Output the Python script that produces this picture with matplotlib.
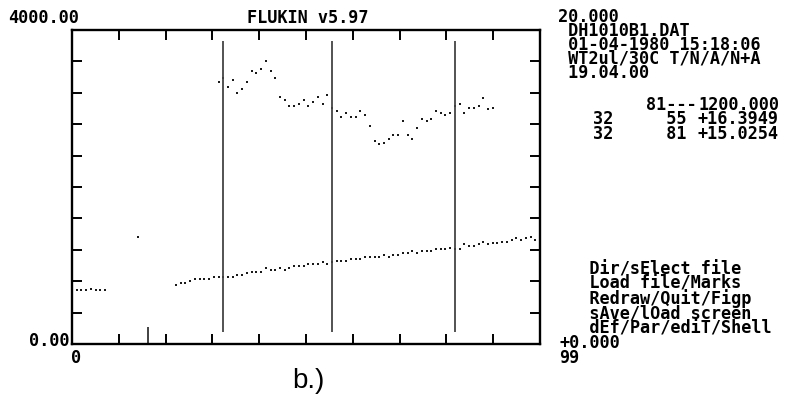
# FLUKIN v5.97 screen dump, redrawn with matplotlib.

import numpy as np
import matplotlib
matplotlib.use("Agg")
import matplotlib.pyplot as plt

W, H = 789, 405

# upper trace (marks from 31 to 89)
upper_x = list(range(31, 90))
upper_y = [3342, 3385, 3270, 3363, 3202, 3249, 3342, 3482, 3457, 3504,
           3602, 3482, 3389, 3151, 3109, 3036, 3036, 3062, 3109, 3036,
           3083, 3151, 3062, 3176, 3010, 2964, 2896, 2939, 2896, 2896,
           2964, 2917, 2777, 2590, 2544, 2565, 2612, 2659, 2659, 2845,
           2659, 2612, 2752, 2870, 2845, 2870, 2964, 2939, 2917, 2939,
           3036, 3058, 2939, 3010, 3010, 3036, 3130, 2990, 3010]

# lower trace
lower_x = [1, 2, 3, 4, 5, 6, 7, 14] + list(range(22, 99))
lower_y = [690, 690, 690, 705, 685, 685, 685, 1367,
           756, 781, 781, 803, 824, 824, 824, 824, 850, 850,
           850, 850, 850, 875, 875, 900, 921, 921, 921, 968,
           943, 943, 968, 943, 968, 990, 990, 990, 1015, 1015,
           1015, 1041, 1015, 1041, 1062, 1062, 1062, 1087, 1087, 1087,
           1108, 1108, 1108, 1110, 1134, 1108, 1134, 1134, 1159, 1159,
           1181, 1159, 1181, 1181, 1181, 1206, 1206, 1206, 1227, 1206,
           1206, 1274, 1252, 1252, 1274, 1300, 1274, 1290, 1290, 1300,
           1300, 1321, 1346, 1321, 1346, 1367, 1321]

marks = [32, 55, 81]
cursor = 16

header_lines = ["20.000", " DH1010B1.DAT", " 01-04-1980 15:18:06",
                " WT2ul/30C T/N/A/N+A", " 19.04.00"]
col_a = ["", "32", "32"]
col_b = ["81---", "  55", "  81"]
col_c = ["1200.000", "+16.3949", "+15.0254"]
menu_lines = ["   Dir/sElect file", "   Load file/Marks", "   Redraw/Quit/Figp",
              "   sAve/lOad screen", "   dEf/Par/ediT/Shell", "+0.000", "99"]

mono = dict(family="DejaVu Sans Mono", weight="bold", fontsize=12.2, color="black")

fig = plt.figure(figsize=(W / 100, H / 100), dpi=100)
ax = fig.add_axes([72 / W, 61 / H, 468 / W, 314 / H])

ax.plot(upper_x, upper_y, linestyle="none", marker="s", ms=1.8, mew=0, color="#1a1a1a")
ax.plot(lower_x, lower_y, linestyle="none", marker="s", ms=1.8, mew=0, color="#1a1a1a")
ax.vlines(marks, 150, 3860, color="#444444", lw=1.3)
ax.vlines(cursor, 0, 220, color="#333333", lw=1.3)

ax.set_xlim(0, 99)
ax.set_ylim(0, 4000)
ax.set_xticks(np.linspace(0, 99, 11))
ax.set_yticks(np.arange(0, 4001, 400))
ax.tick_params(direction="in", length=7, width=1.4, top=True, right=True,
               labelbottom=False, labelleft=False)
for sp in ax.spines.values():
    sp.set_linewidth(1.7)


def put(x, y, s, ha="left", va="center", **kw):
    # x, y in pixels from top-left
    opts = dict(mono)
    opts.update(kw)
    fig.text(x / W, 1 - y / H, s, ha=ha, va=va, multialignment=ha, **opts)


put(8, 18, "4000.00")
put(69, 341, "0.00", ha="right")
put(71, 358, "0")
put(308, 18, "FLUKIN v5.97", ha="center")

put(558, 8, "\n".join(header_lines), va="top", linespacing=0.71)

put(613, 96, "\n".join(col_a), ha="right", va="top", linespacing=0.74)
put(646, 96, "\n".join(col_b), va="top", linespacing=0.74)
put(779, 96, "\n".join(col_c), ha="right", va="top", linespacing=0.74)

put(559, 260, "\n".join(menu_lines), va="top", linespacing=0.76)

fig.text(308 / W, 1 - 381 / H, "b.)", ha="center", va="center",
         family="Liberation Sans", fontsize=20, color="black")

fig.savefig("out.png", dpi=100)
